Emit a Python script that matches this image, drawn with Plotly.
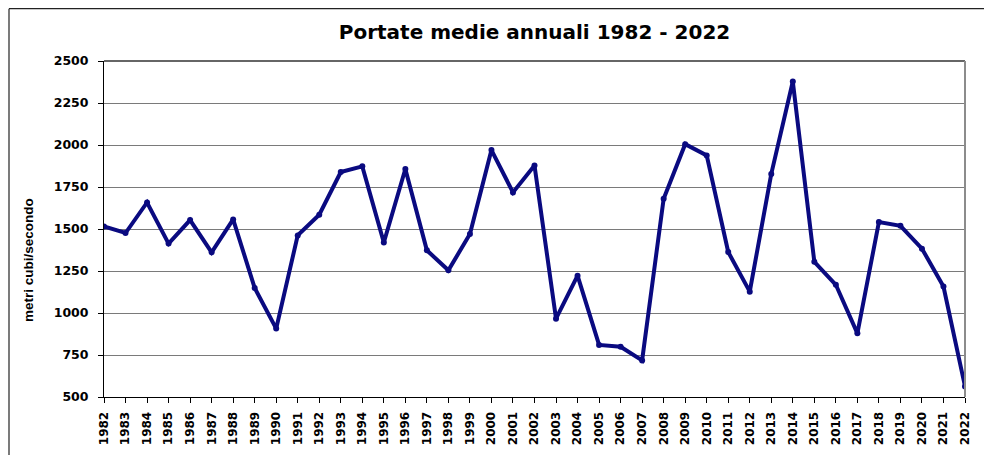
import plotly.graph_objects as go

years = list(range(1982, 2023))
portate = [1515, 1476, 1658, 1413, 1553, 1361, 1557, 1149, 907, 1462,
           1585, 1839, 1873, 1420, 1857, 1373, 1254, 1470, 1970, 1718,
           1878, 966, 1222, 810, 799, 718, 1680, 2005, 1938, 1363,
           1127, 1828, 2378, 1305, 1168, 879, 1541, 1519, 1383, 1158, 563]
y_ticks = [500, 750, 1000, 1250, 1500, 1750, 2000, 2250, 2500]

title_text = "Portate medie annuali 1982 - 2022"
y_title = "metri cubi/secondo"

W, H = 992, 455
OFF = 8  # page body margin
# target plot area in screen pixels
PX0, PX1, PY0, PY1 = 104, 965, 61, 397
L = PX0 - OFF
T = PY0 - OFF
R = W - (PX1 - OFF)
B = H - (PY1 - OFF)
pw = PX1 - PX0
ph = PY1 - PY0

def px_to_paper_x(sx):
    return (sx - PX0) / pw

def py_to_paper_y(sy):
    return (PY1 - sy) / ph

fig = go.Figure()
fig.add_trace(go.Scatter(
    x=years, y=portate, mode="lines+markers",
    line=dict(color="#0A0A80", width=4),
    marker=dict(color="#0A0A80", size=6),
    hoverinfo="x+y", showlegend=False,
))

fig.update_layout(
    width=W, height=H,
    margin=dict(l=L, r=R, t=T, b=B, pad=0, autoexpand=False),
    paper_bgcolor="white", plot_bgcolor="white",
    title=dict(text=title_text, x=0.5, xref="paper",
               y=(H - (31.5 - OFF)) / H, yref="container", yanchor="middle",
               font=dict(family="DejaVu Sans", size=20, color="black", weight="bold")),
    xaxis=dict(
        range=[1982, 2022], tickmode="array", tickvals=years,
        ticktext=[str(v) for v in years], tickangle=-90,
        ticks="outside", ticklen=5, tickcolor="black", tickwidth=1,
        ticklabelstandoff=4,
        showline=True, linecolor="black", linewidth=1,
        showgrid=False, zeroline=False, automargin=False,
        tickfont=dict(family="DejaVu Sans", size=12, color="black", weight="bold"),
    ),
    yaxis=dict(
        range=[500, 2500], tickmode="array", tickvals=y_ticks,
        ticks="outside", ticklen=5, tickcolor="black", tickwidth=1,
        ticklabelstandoff=7,
        showline=True, linecolor="black", linewidth=1,
        showgrid=True, gridcolor="#7a7a7a", gridwidth=1.3, zeroline=False,
        automargin=False,
        tickfont=dict(family="DejaVu Sans", size=12.5, color="black", weight="bold"),
    ),
)

# y-axis title placed as in the reference (below the plot centre)
fig.add_annotation(text=y_title, textangle=-90, showarrow=False,
                   xref="paper", yref="paper",
                   x=px_to_paper_x(28), y=py_to_paper_y(260),
                   xanchor="center", yanchor="middle",
                   font=dict(family="Liberation Sans", size=13.5, color="black", weight="bold"))

# top and right borders of plot area
fig.add_shape(type="line", xref="paper", yref="paper", x0=0, x1=1, y0=1, y1=1,
              line=dict(color="#333333", width=1.3))
fig.add_shape(type="line", xref="paper", yref="paper", x0=1, x1=1, y0=0, y1=1,
              line=dict(color="#8c8c8c", width=2))
# outer chart frame (left and top edges visible)
fx0 = px_to_paper_x(9)
fx1 = px_to_paper_x(W + 20)
fy_top = py_to_paper_y(OFF + 0.7)
fy_bot = py_to_paper_y(H + 20)
fig.add_shape(type="line", xref="paper", yref="paper", x0=fx0, x1=fx1, y0=fy_top, y1=fy_top,
              line=dict(color="#222222", width=1.2))
fig.add_shape(type="line", xref="paper", yref="paper", x0=fx0, x1=fx0, y0=fy_bot, y1=fy_top,
              line=dict(color="#222222", width=1.2))

fig.write_html("out.html")
